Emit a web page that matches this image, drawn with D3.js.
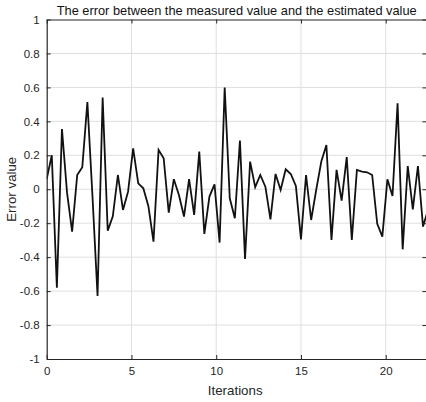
<!DOCTYPE html>
<html>
<head>
<meta charset="utf-8">
<script src="https://cdn.jsdelivr.net/npm/d3@7"></script>
<style>
  body { margin: 0; background: #fff; }
  svg { display: block; font-family: "Liberation Sans", Arial, sans-serif; }
  .grid line { stroke: #dfdfdf; stroke-width: 1; }
  .axis path, .axis line { stroke: #262626; }
  .axis text { fill: #262626; font-size: 11px; }
</style>
</head>
<body>
<div class="chart"></div>
<script>
// error per iteration, sampled every 0.3
const step = 0.3;
const errorValues = [
  0.06, 0.20, -0.58, 0.355, -0.02, -0.25, 0.084, 0.13, 0.513, -0.04,
  -0.629, 0.54, -0.244, -0.16, 0.084, -0.122, -0.014, 0.241, 0.035, 0.006,
  -0.10, -0.309, 0.232, 0.183, -0.138, 0.059, -0.034, -0.161, 0.059, -0.151,
  0.222, -0.263, -0.043, 0.029, -0.314, 0.599, -0.053, -0.171, 0.287, -0.411,
  0.163, 0.012, 0.084, 0.015, -0.177, 0.09, -0.004, 0.118, 0.09, 0.019,
  -0.295, 0.084, -0.181, -0.004, 0.163, 0.261, -0.299, 0.114, -0.067, 0.189,
  -0.299, 0.114, 0.104, 0.10, 0.084, -0.204, -0.279, 0.059, -0.04, 0.507,
  -0.354, 0.137, -0.118, 0.137, -0.22, -0.12
];
const xTicks = [0, 5, 10, 15, 20];
const yTicks = [-1, -0.8, -0.6, -0.4, -0.2, 0, 0.2, 0.4, 0.6, 0.8, 1];
const xDomain = [0, 22.4];
const yDomain = [-1, 1];

var data = errorValues.map(function(v, i) { return { it: i * step, err: v }; });

var ww = 426, hh = 402;
var margin = {top: 19.5, right: -0.4, bottom: 43, left: 46.7},
    width = ww - margin.left - margin.right,
    height = hh - margin.top - margin.bottom;

var x = d3.scaleLinear().domain(xDomain).range([0, width]);
var y = d3.scaleLinear().domain(yDomain).range([height, 0]);

// tirets simples comme matlab, pas le signe moins unicode
function fmt(d) { return String(+d.toFixed(1)); }

var svg = d3.select(".chart")
  .append("svg")
    .attr("width", ww)
    .attr("height", hh)
  .append("g")
    .attr("transform", "translate(" + margin.left + "," + margin.top + ")");

svg.append("defs").append("clipPath")
    .attr("id", "plot-clip")
  .append("rect")
    .attr("width", width)
    .attr("height", height);

// grille
svg.append("g")
    .attr("class", "grid")
  .selectAll("line.v")
  .data(xTicks.filter(function(d) { return d > xDomain[0]; }))
  .enter().append("line")
    .attr("x1", function(d) { return x(d); })
    .attr("x2", function(d) { return x(d); })
    .attr("y1", 0)
    .attr("y2", height);

svg.append("g")
    .attr("class", "grid")
  .selectAll("line.h")
  .data(yTicks.filter(function(d) { return d > yDomain[0] && d < yDomain[1]; }))
  .enter().append("line")
    .attr("x1", 0)
    .attr("x2", width)
    .attr("y1", function(d) { return y(d); })
    .attr("y2", function(d) { return y(d); });

// courbe
var line = d3.line()
  .x(function(d) { return x(d.it); })
  .y(function(d) { return y(d.err); });

svg.append("path")
    .datum(data)
    .attr("clip-path", "url(#plot-clip)")
    .attr("fill", "none")
    .attr("stroke", "#111")
    .attr("stroke-width", 1.8)
    .attr("stroke-linejoin", "miter")
    .attr("d", line);

// axes (ticks vers l'intérieur, boîte fermée)
var tl = 4;
svg.append("g")
    .attr("class", "axis")
    .attr("transform", "translate(0," + height + ")")
    .call(d3.axisBottom(x).tickValues(xTicks).tickSizeInner(-tl).tickSizeOuter(0).tickPadding(8).tickFormat(fmt))
    .selectAll("text").style("font-size", "11.5px");

svg.append("g")
    .attr("class", "axis")
    .call(d3.axisTop(x).tickValues(xTicks).tickSizeInner(-tl).tickSizeOuter(0).tickFormat(""));

svg.append("g")
    .attr("class", "axis")
    .call(d3.axisLeft(y).tickValues(yTicks).tickSizeInner(-tl).tickSizeOuter(0).tickPadding(7).tickFormat(fmt))
    .selectAll("text").style("font-size", "11.5px");

svg.append("g")
    .attr("class", "axis")
    .attr("transform", "translate(" + width + ",0)")
    .call(d3.axisRight(y).tickValues(yTicks).tickSizeInner(-tl).tickSizeOuter(0).tickFormat(""));

svg.selectAll(".axis .domain").attr("stroke-width", 1.2);

// titre
svg.append("text")
    .attr("x", 190)
    .attr("y", -5)
    .attr("text-anchor", "middle")
    .style("font-size", "12.8px")
    .style("fill", "#111")
    .text("The error between the measured value and the estimated value");

// labels
svg.append("text")
    .attr("x", 188.5)
    .attr("y", height + 36)
    .attr("text-anchor", "middle")
    .style("font-size", "13.3px")
    .style("fill", "#262626")
    .text("Iterations");

svg.append("text")
    .attr("transform", "rotate(-90)")
    .attr("x", -height / 2)
    .attr("y", -31)
    .attr("text-anchor", "middle")
    .style("font-size", "13.3px")
    .style("fill", "#262626")
    .text("Error value");
</script>
</body>
</html>
